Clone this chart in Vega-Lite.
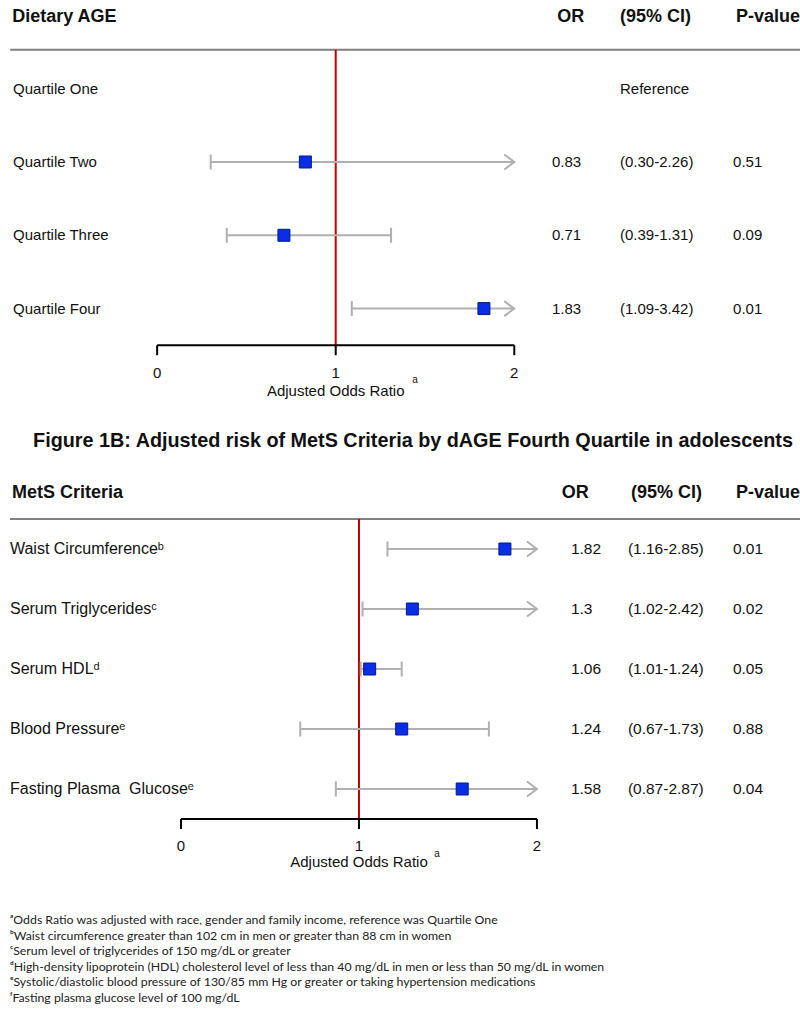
{
"$schema":"https://vega.github.io/schema/vega-lite/v6.json",
"background":"white",
"padding":0,
"spacing":0,
"config":{"view":{"stroke":null},"axis":{"disable":true},"text":{"font":"Liberation Sans","color":"#111111"}},
"datasets":{
 "one":[{"k":0}],
 "ticks":[{"v":0},{"v":1},{"v":2}],
 "qa":[
  {"row":1,"label":"Quartile One","ort":"","ci":"Reference","p":""},
  {"row":2,"label":"Quartile Two","or":0.83,"lo":0.30,"hi":2.26,"ort":"0.83","ci":"(0.30-2.26)","p":"0.51"},
  {"row":3,"label":"Quartile Three","or":0.71,"lo":0.39,"hi":1.31,"ort":"0.71","ci":"(0.39-1.31)","p":"0.09"},
  {"row":4,"label":"Quartile Four","or":1.83,"lo":1.09,"hi":3.42,"ort":"1.83","ci":"(1.09-3.42)","p":"0.01"}
 ],
 "qb":[
  {"row":1,"label":"Waist Circumferenceᵇ","or":1.82,"lo":1.16,"hi":2.85,"ort":"1.82","ci":"(1.16-2.85)","p":"0.01"},
  {"row":2,"label":"Serum Triglyceridesᶜ","or":1.3,"lo":1.02,"hi":2.42,"ort":"1.3","ci":"(1.02-2.42)","p":"0.02"},
  {"row":3,"label":"Serum HDLᵈ","or":1.06,"lo":1.01,"hi":1.24,"ort":"1.06","ci":"(1.01-1.24)","p":"0.05"},
  {"row":4,"label":"Blood Pressureᵉ","or":1.24,"lo":0.67,"hi":1.73,"ort":"1.24","ci":"(0.67-1.73)","p":"0.88"},
  {"row":5,"label":"Fasting Plasma\u00a0 Glucoseᵉ","or":1.58,"lo":0.87,"hi":2.87,"ort":"1.58","ci":"(0.87-2.87)","p":"0.04"}
 ],
 "notes":[
  {"n":1,"t":"ᵃOdds Ratio was adjusted with race, gender and family income, reference was Quartile One"},
  {"n":2,"t":"ᵇWaist circumference greater than 102 cm in men or greater than 88 cm in women"},
  {"n":3,"t":"ᶜSerum level of triglycerides of 150 mg/dL or greater"},
  {"n":4,"t":"ᵈHigh-density lipoprotein (HDL) cholesterol level of less than 40 mg/dL in men or less than 50 mg/dL in women"},
  {"n":5,"t":"ᵉSystolic/diastolic blood pressure of 130/85 mm Hg or greater or taking hypertension medications"},
  {"n":6,"t":"ᶠFasting plasma glucose level of 100 mg/dL"}
 ]
},
"vconcat":[
{
 "width":800,"height":431,
 "layer":[
  {"data":{"name":"one"},"mark":{"type":"rule","color":"#808080","strokeWidth":2},
   "encoding":{"x":{"datum":-0.823,"type":"quantitative","scale":{"domain":[-0.88,3.6],"nice":false,"zero":false}},"x2":{"datum":3.6},
    "y":{"datum":0.47,"type":"quantitative","scale":{"domain":[-0.21,5.67],"nice":false,"zero":false,"reverse":true}}}},
  {"data":{"name":"one"},"mark":{"type":"rule","color":"#c00000","strokeWidth":2},
   "encoding":{"x":{"datum":1,"type":"quantitative","scale":{"domain":[-0.88,3.6],"nice":false,"zero":false}},
    "y":{"datum":0.47,"type":"quantitative","scale":{"domain":[-0.21,5.67],"nice":false,"zero":false,"reverse":true}},"y2":{"datum":4.5}}},
  {"data":{"name":"one"},"mark":{"type":"rule","color":"#000000","strokeWidth":2},
   "encoding":{"x":{"datum":0,"type":"quantitative","scale":{"domain":[-0.88,3.6],"nice":false,"zero":false}},"x2":{"datum":2},
    "y":{"datum":4.5,"type":"quantitative","scale":{"domain":[-0.21,5.67],"nice":false,"zero":false,"reverse":true}}}},
  {"data":{"name":"ticks"},"mark":{"type":"rule","color":"#000000","strokeWidth":2},
   "encoding":{"x":{"field":"v","type":"quantitative","scale":{"domain":[-0.88,3.6],"nice":false,"zero":false}},
    "y":{"datum":4.5,"type":"quantitative","scale":{"domain":[-0.21,5.67],"nice":false,"zero":false,"reverse":true}},"y2":{"datum":4.636}}},
  {"data":{"name":"ticks"},"mark":{"type":"text","align":"center","baseline":"middle","fontSize":15},
   "encoding":{"x":{"field":"v","type":"quantitative","scale":{"domain":[-0.88,3.6],"nice":false,"zero":false}},
    "y":{"datum":4.88,"type":"quantitative","scale":{"domain":[-0.21,5.67],"nice":false,"zero":false,"reverse":true}},
    "text":{"field":"v","type":"quantitative"}}},
  {"data":{"name":"qa"},"transform":[{"filter":"datum.hi != null && datum.hi <= 2"}],
   "mark":{"type":"rule","color":"#b0b0b0","strokeWidth":2},
   "encoding":{"x":{"field":"lo","type":"quantitative","scale":{"domain":[-0.88,3.6],"nice":false,"zero":false}},"x2":{"field":"hi"},
    "y":{"field":"row","type":"quantitative","scale":{"domain":[-0.21,5.67],"nice":false,"zero":false,"reverse":true}}}},
  {"data":{"name":"qa"},"transform":[{"filter":"datum.hi != null && datum.hi > 2"}],
   "mark":{"type":"rule","color":"#b0b0b0","strokeWidth":2},
   "encoding":{"x":{"field":"lo","type":"quantitative","scale":{"domain":[-0.88,3.6],"nice":false,"zero":false}},"x2":{"datum":2},
    "y":{"field":"row","type":"quantitative","scale":{"domain":[-0.21,5.67],"nice":false,"zero":false,"reverse":true}}}},
  {"data":{"name":"qa"},"transform":[{"filter":"datum.lo != null"}],
   "mark":{"type":"point","shape":"M0,-1L0,1","filled":false,"size":225,"color":"#b0b0b0","strokeWidth":2,"opacity":1},
   "encoding":{"x":{"field":"lo","type":"quantitative","scale":{"domain":[-0.88,3.6],"nice":false,"zero":false}},
    "y":{"field":"row","type":"quantitative","scale":{"domain":[-0.21,5.67],"nice":false,"zero":false,"reverse":true}}}},
  {"data":{"name":"qa"},"transform":[{"filter":"datum.hi != null && datum.hi <= 2"}],
   "mark":{"type":"point","shape":"M0,-1L0,1","filled":false,"size":225,"color":"#b0b0b0","strokeWidth":2,"opacity":1},
   "encoding":{"x":{"field":"hi","type":"quantitative","scale":{"domain":[-0.88,3.6],"nice":false,"zero":false}},
    "y":{"field":"row","type":"quantitative","scale":{"domain":[-0.21,5.67],"nice":false,"zero":false,"reverse":true}}}},
  {"data":{"name":"qa"},"transform":[{"filter":"datum.hi != null && datum.hi > 2"}],
   "mark":{"type":"point","shape":"M-1,-0.75L0,0L-1,0.75","filled":false,"size":400,"color":"#b0b0b0","strokeWidth":2,"opacity":1},
   "encoding":{"x":{"datum":2,"type":"quantitative","scale":{"domain":[-0.88,3.6],"nice":false,"zero":false}},
    "y":{"field":"row","type":"quantitative","scale":{"domain":[-0.21,5.67],"nice":false,"zero":false,"reverse":true}}}},
  {"data":{"name":"qa"},"transform":[{"filter":"datum.or != null"}],
   "mark":{"type":"point","shape":"square","filled":true,"size":144,"color":"#0a2de6","stroke":"#001a8c","strokeWidth":1,"opacity":1},
   "encoding":{"x":{"field":"or","type":"quantitative","scale":{"domain":[-0.88,3.6],"nice":false,"zero":false}},
    "y":{"field":"row","type":"quantitative","scale":{"domain":[-0.21,5.67],"nice":false,"zero":false,"reverse":true}}}},
  {"data":{"name":"qa"},"mark":{"type":"text","align":"left","baseline":"middle","fontSize":15},
   "encoding":{"x":{"datum":-0.807,"type":"quantitative","scale":{"domain":[-0.88,3.6],"nice":false,"zero":false}},
    "y":{"field":"row","type":"quantitative","scale":{"domain":[-0.21,5.67],"nice":false,"zero":false,"reverse":true}},
    "text":{"field":"label","type":"nominal"}}},
  {"data":{"name":"qa"},"mark":{"type":"text","align":"left","baseline":"middle","fontSize":15},
   "encoding":{"x":{"datum":2.211,"type":"quantitative","scale":{"domain":[-0.88,3.6],"nice":false,"zero":false}},
    "y":{"field":"row","type":"quantitative","scale":{"domain":[-0.21,5.67],"nice":false,"zero":false,"reverse":true}},
    "text":{"field":"ort","type":"nominal"}}},
  {"data":{"name":"qa"},"mark":{"type":"text","align":"left","baseline":"middle","fontSize":15},
   "encoding":{"x":{"datum":2.592,"type":"quantitative","scale":{"domain":[-0.88,3.6],"nice":false,"zero":false}},
    "y":{"field":"row","type":"quantitative","scale":{"domain":[-0.21,5.67],"nice":false,"zero":false,"reverse":true}},
    "text":{"field":"ci","type":"nominal"}}},
  {"data":{"name":"qa"},"mark":{"type":"text","align":"left","baseline":"middle","fontSize":15},
   "encoding":{"x":{"datum":3.225,"type":"quantitative","scale":{"domain":[-0.88,3.6],"nice":false,"zero":false}},
    "y":{"field":"row","type":"quantitative","scale":{"domain":[-0.21,5.67],"nice":false,"zero":false,"reverse":true}},
    "text":{"field":"p","type":"nominal"}}},
  {"data":{"name":"one"},"mark":{"type":"text","text":"Dietary AGE","align":"left","baseline":"middle","fontSize":18,"fontWeight":"bold"},
   "encoding":{"x":{"datum":-0.812,"type":"quantitative","scale":{"domain":[-0.88,3.6],"nice":false,"zero":false}},
    "y":{"datum":0.02,"type":"quantitative","scale":{"domain":[-0.21,5.67],"nice":false,"zero":false,"reverse":true}}}},
  {"data":{"name":"one"},"mark":{"type":"text","text":"OR","align":"left","baseline":"middle","fontSize":18,"fontWeight":"bold"},
   "encoding":{"x":{"datum":2.24,"type":"quantitative","scale":{"domain":[-0.88,3.6],"nice":false,"zero":false}},
    "y":{"datum":0.02,"type":"quantitative","scale":{"domain":[-0.21,5.67],"nice":false,"zero":false,"reverse":true}}}},
  {"data":{"name":"one"},"mark":{"type":"text","text":"(95% CI)","align":"left","baseline":"middle","fontSize":18,"fontWeight":"bold"},
   "encoding":{"x":{"datum":2.592,"type":"quantitative","scale":{"domain":[-0.88,3.6],"nice":false,"zero":false}},
    "y":{"datum":0.02,"type":"quantitative","scale":{"domain":[-0.21,5.67],"nice":false,"zero":false,"reverse":true}}}},
  {"data":{"name":"one"},"mark":{"type":"text","text":"P-value","align":"left","baseline":"middle","fontSize":18,"fontWeight":"bold"},
   "encoding":{"x":{"datum":3.242,"type":"quantitative","scale":{"domain":[-0.88,3.6],"nice":false,"zero":false}},
    "y":{"datum":0.02,"type":"quantitative","scale":{"domain":[-0.21,5.67],"nice":false,"zero":false,"reverse":true}}}},
  {"data":{"name":"one"},"mark":{"type":"text","text":"Adjusted Odds Ratio","align":"center","baseline":"middle","fontSize":15},
   "encoding":{"x":{"datum":1,"type":"quantitative","scale":{"domain":[-0.88,3.6],"nice":false,"zero":false}},
    "y":{"datum":5.12,"type":"quantitative","scale":{"domain":[-0.21,5.67],"nice":false,"zero":false,"reverse":true}}}},
  {"data":{"name":"one"},"mark":{"type":"text","text":"a","align":"center","baseline":"middle","fontSize":10},
   "encoding":{"x":{"datum":1.444,"type":"quantitative","scale":{"domain":[-0.88,3.6],"nice":false,"zero":false}},
    "y":{"datum":4.97,"type":"quantitative","scale":{"domain":[-0.21,5.67],"nice":false,"zero":false,"reverse":true}}}}
 ]
},
{
 "width":800,"height":431,
 "title":{"text":"Figure 1B: Adjusted risk of MetS Criteria by dAGE Fourth Quartile in adolescents","fontSize":19.8,"font":"Liberation Sans","fontWeight":"bold","color":"#111111","anchor":"middle","frame":"group","offset":8,"dx":13},
 "layer":[
  {"data":{"name":"one"},"mark":{"type":"rule","color":"#808080","strokeWidth":2},
   "encoding":{"x":{"datum":-0.961,"type":"quantitative","scale":{"domain":[-1.017,3.478],"nice":false,"zero":false}},"x2":{"datum":3.478},
    "y":{"datum":0.5,"type":"quantitative","scale":{"domain":[-0.5,6.6833],"nice":false,"zero":false,"reverse":true}}}},
  {"data":{"name":"one"},"mark":{"type":"rule","color":"#c00000","strokeWidth":2},
   "encoding":{"x":{"datum":1,"type":"quantitative","scale":{"domain":[-1.017,3.478],"nice":false,"zero":false}},
    "y":{"datum":0.5,"type":"quantitative","scale":{"domain":[-0.5,6.6833],"nice":false,"zero":false,"reverse":true}},"y2":{"datum":5.5}}},
  {"data":{"name":"one"},"mark":{"type":"rule","color":"#000000","strokeWidth":2},
   "encoding":{"x":{"datum":0,"type":"quantitative","scale":{"domain":[-1.017,3.478],"nice":false,"zero":false}},"x2":{"datum":2},
    "y":{"datum":5.5,"type":"quantitative","scale":{"domain":[-0.5,6.6833],"nice":false,"zero":false,"reverse":true}}}},
  {"data":{"name":"ticks"},"mark":{"type":"rule","color":"#000000","strokeWidth":2},
   "encoding":{"x":{"field":"v","type":"quantitative","scale":{"domain":[-1.017,3.478],"nice":false,"zero":false}},
    "y":{"datum":5.5,"type":"quantitative","scale":{"domain":[-0.5,6.6833],"nice":false,"zero":false,"reverse":true}},"y2":{"datum":5.667}}},
  {"data":{"name":"ticks"},"mark":{"type":"text","align":"center","baseline":"middle","fontSize":15},
   "encoding":{"x":{"field":"v","type":"quantitative","scale":{"domain":[-1.017,3.478],"nice":false,"zero":false}},
    "y":{"datum":5.95,"type":"quantitative","scale":{"domain":[-0.5,6.6833],"nice":false,"zero":false,"reverse":true}},
    "text":{"field":"v","type":"quantitative"}}},
  {"data":{"name":"qb"},"transform":[{"filter":"datum.hi != null && datum.hi <= 2"}],
   "mark":{"type":"rule","color":"#b0b0b0","strokeWidth":2},
   "encoding":{"x":{"field":"lo","type":"quantitative","scale":{"domain":[-1.017,3.478],"nice":false,"zero":false}},"x2":{"field":"hi"},
    "y":{"field":"row","type":"quantitative","scale":{"domain":[-0.5,6.6833],"nice":false,"zero":false,"reverse":true}}}},
  {"data":{"name":"qb"},"transform":[{"filter":"datum.hi != null && datum.hi > 2"}],
   "mark":{"type":"rule","color":"#b0b0b0","strokeWidth":2},
   "encoding":{"x":{"field":"lo","type":"quantitative","scale":{"domain":[-1.017,3.478],"nice":false,"zero":false}},"x2":{"datum":2},
    "y":{"field":"row","type":"quantitative","scale":{"domain":[-0.5,6.6833],"nice":false,"zero":false,"reverse":true}}}},
  {"data":{"name":"qb"},
   "mark":{"type":"point","shape":"M0,-1L0,1","filled":false,"size":225,"color":"#b0b0b0","strokeWidth":2,"opacity":1},
   "encoding":{"x":{"field":"lo","type":"quantitative","scale":{"domain":[-1.017,3.478],"nice":false,"zero":false}},
    "y":{"field":"row","type":"quantitative","scale":{"domain":[-0.5,6.6833],"nice":false,"zero":false,"reverse":true}}}},
  {"data":{"name":"qb"},"transform":[{"filter":"datum.hi != null && datum.hi <= 2"}],
   "mark":{"type":"point","shape":"M0,-1L0,1","filled":false,"size":225,"color":"#b0b0b0","strokeWidth":2,"opacity":1},
   "encoding":{"x":{"field":"hi","type":"quantitative","scale":{"domain":[-1.017,3.478],"nice":false,"zero":false}},
    "y":{"field":"row","type":"quantitative","scale":{"domain":[-0.5,6.6833],"nice":false,"zero":false,"reverse":true}}}},
  {"data":{"name":"qb"},"transform":[{"filter":"datum.hi != null && datum.hi > 2"}],
   "mark":{"type":"point","shape":"M-1,-0.75L0,0L-1,0.75","filled":false,"size":400,"color":"#b0b0b0","strokeWidth":2,"opacity":1},
   "encoding":{"x":{"datum":2,"type":"quantitative","scale":{"domain":[-1.017,3.478],"nice":false,"zero":false}},
    "y":{"field":"row","type":"quantitative","scale":{"domain":[-0.5,6.6833],"nice":false,"zero":false,"reverse":true}}}},
  {"data":{"name":"qb"},
   "mark":{"type":"point","shape":"square","filled":true,"size":144,"color":"#0a2de6","stroke":"#001a8c","strokeWidth":1,"opacity":1},
   "encoding":{"x":{"field":"or","type":"quantitative","scale":{"domain":[-1.017,3.478],"nice":false,"zero":false}},
    "y":{"field":"row","type":"quantitative","scale":{"domain":[-0.5,6.6833],"nice":false,"zero":false,"reverse":true}}}},
  {"data":{"name":"qb"},"mark":{"type":"text","align":"left","baseline":"middle","fontSize":16},
   "encoding":{"x":{"datum":-0.961,"type":"quantitative","scale":{"domain":[-1.017,3.478],"nice":false,"zero":false}},
    "y":{"field":"row","type":"quantitative","scale":{"domain":[-0.5,6.6833],"nice":false,"zero":false,"reverse":true}},
    "text":{"field":"label","type":"nominal"}}},
  {"data":{"name":"qb"},"mark":{"type":"text","align":"left","baseline":"middle","fontSize":15.5},
   "encoding":{"x":{"datum":2.191,"type":"quantitative","scale":{"domain":[-1.017,3.478],"nice":false,"zero":false}},
    "y":{"field":"row","type":"quantitative","scale":{"domain":[-0.5,6.6833],"nice":false,"zero":false,"reverse":true}},
    "text":{"field":"ort","type":"nominal"}}},
  {"data":{"name":"qb"},"mark":{"type":"text","align":"left","baseline":"middle","fontSize":15.5},
   "encoding":{"x":{"datum":2.511,"type":"quantitative","scale":{"domain":[-1.017,3.478],"nice":false,"zero":false}},
    "y":{"field":"row","type":"quantitative","scale":{"domain":[-0.5,6.6833],"nice":false,"zero":false,"reverse":true}},
    "text":{"field":"ci","type":"nominal"}}},
  {"data":{"name":"qb"},"mark":{"type":"text","align":"left","baseline":"middle","fontSize":15.5},
   "encoding":{"x":{"datum":3.101,"type":"quantitative","scale":{"domain":[-1.017,3.478],"nice":false,"zero":false}},
    "y":{"field":"row","type":"quantitative","scale":{"domain":[-0.5,6.6833],"nice":false,"zero":false,"reverse":true}},
    "text":{"field":"p","type":"nominal"}}},
  {"data":{"name":"one"},"mark":{"type":"text","text":"MetS Criteria","align":"left","baseline":"middle","fontSize":18,"fontWeight":"bold"},
   "encoding":{"x":{"datum":-0.949,"type":"quantitative","scale":{"domain":[-1.017,3.478],"nice":false,"zero":false}},
    "y":{"datum":0.067,"type":"quantitative","scale":{"domain":[-0.5,6.6833],"nice":false,"zero":false,"reverse":true}}}},
  {"data":{"name":"one"},"mark":{"type":"text","text":"OR","align":"left","baseline":"middle","fontSize":18,"fontWeight":"bold"},
   "encoding":{"x":{"datum":2.14,"type":"quantitative","scale":{"domain":[-1.017,3.478],"nice":false,"zero":false}},
    "y":{"datum":0.067,"type":"quantitative","scale":{"domain":[-0.5,6.6833],"nice":false,"zero":false,"reverse":true}}}},
  {"data":{"name":"one"},"mark":{"type":"text","text":"(95% CI)","align":"left","baseline":"middle","fontSize":18,"fontWeight":"bold"},
   "encoding":{"x":{"datum":2.528,"type":"quantitative","scale":{"domain":[-1.017,3.478],"nice":false,"zero":false}},
    "y":{"datum":0.067,"type":"quantitative","scale":{"domain":[-0.5,6.6833],"nice":false,"zero":false,"reverse":true}}}},
  {"data":{"name":"one"},"mark":{"type":"text","text":"P-value","align":"left","baseline":"middle","fontSize":18,"fontWeight":"bold"},
   "encoding":{"x":{"datum":3.118,"type":"quantitative","scale":{"domain":[-1.017,3.478],"nice":false,"zero":false}},
    "y":{"datum":0.067,"type":"quantitative","scale":{"domain":[-0.5,6.6833],"nice":false,"zero":false,"reverse":true}}}},
  {"data":{"name":"one"},"mark":{"type":"text","text":"Adjusted Odds Ratio","align":"center","baseline":"middle","fontSize":15},
   "encoding":{"x":{"datum":1,"type":"quantitative","scale":{"domain":[-1.017,3.478],"nice":false,"zero":false}},
    "y":{"datum":6.217,"type":"quantitative","scale":{"domain":[-0.5,6.6833],"nice":false,"zero":false,"reverse":true}}}},
  {"data":{"name":"one"},"mark":{"type":"text","text":"a","align":"center","baseline":"middle","fontSize":10},
   "encoding":{"x":{"datum":1.438,"type":"quantitative","scale":{"domain":[-1.017,3.478],"nice":false,"zero":false}},
    "y":{"datum":6.083,"type":"quantitative","scale":{"domain":[-0.5,6.6833],"nice":false,"zero":false,"reverse":true}}}}
 ]
},
{
 "width":800,"height":128,
 "data":{"name":"notes"},
 "mark":{"type":"text","align":"left","baseline":"middle","fontSize":12.3,"font":"Lato","color":"#222222"},
 "encoding":{
  "x":{"datum":-0.961,"type":"quantitative","scale":{"domain":[-1.017,3.478],"nice":false,"zero":false}},
  "y":{"field":"n","type":"quantitative","scale":{"domain":[-0.923,7.282],"nice":false,"zero":false,"reverse":true}},
  "text":{"field":"t","type":"nominal"}
 }
}
]
}
